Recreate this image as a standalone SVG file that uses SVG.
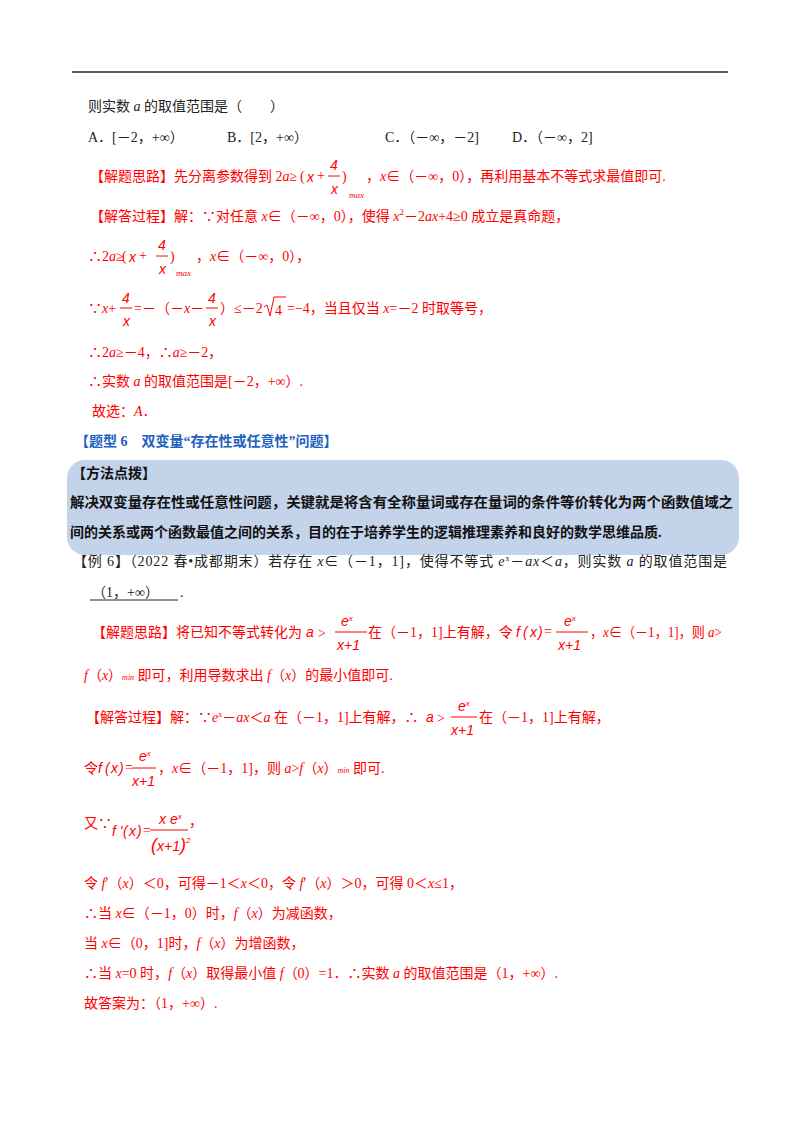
<svg xmlns="http://www.w3.org/2000/svg" width="800" height="1132" viewBox="0 0 800 1132">
<style>
text{font-family:"Liberation Serif","Noto Sans CJK SC",serif;font-size:14px;fill:#222}
.r{fill:#f00}
.b{fill:#2060c0;font-weight:bold}
.k{font-weight:bold;fill:#111}
.i{font-style:italic}
.s{font-size:9px;font-style:italic}
.m{font-family:"Liberation Sans","Noto Sans CJK SC",sans-serif;font-style:italic}
line.f{stroke:#f00;stroke-width:1}
</style>
<rect width="800" height="1132" fill="#fff"/>
<line x1="72" y1="72" x2="728" y2="72" stroke="#222" stroke-width="1.5"/>
<text x="88" y="111">则实数 <tspan class="i">a</tspan> 的取值范围是（　　）</text>
<text x="88" y="142">A．[－2，+∞）</text>
<text x="227" y="142">B．[2，+∞）</text>
<text x="385" y="142">C．（－∞，－2]</text>
<text x="512" y="142">D．（－∞，2]</text>
<g id="sol1">
<text class="r" x="90" y="181">【解题思路】先分离参数得到 2<tspan class="i">a</tspan>≥</text>
<text class="r" x="300" y="181" font-size="20">(</text>
<text class="r m" x="307" y="182">x</text><text class="r" x="317" y="180">+</text>
<text class="r m" x="330" y="170">4</text><line class="f" x1="328" y1="176" x2="340" y2="176"/><text class="r m" x="331" y="194">x</text>
<text class="r" x="342" y="181" font-size="20">)</text>
<text class="r s" x="349" y="198">max</text>
<text class="r" x="366" y="181">，<tspan class="i">x</tspan>∈（－∞，0），再利用基本不等式求最值即可.</text>
<text class="r" x="90" y="221">【解答过程】解：∵对任意 <tspan class="i">x</tspan>∈（－∞，0），使得 <tspan class="i">x</tspan><tspan font-size="9" dy="-6">2</tspan><tspan dy="6">－2<tspan class="i">ax</tspan>+4≥0 成立是真命题，</tspan></text>
<text class="r" x="88" y="261">∴2<tspan class="i">a</tspan>≥</text>
<text class="r" x="122" y="261" font-size="20">(</text>
<text class="r m" x="129" y="262">x</text><text class="r" x="139" y="260">+</text>
<text class="r m" x="158" y="250">4</text><line class="f" x1="156" y1="256" x2="168" y2="256"/><text class="r m" x="159" y="274">x</text>
<text class="r" x="170" y="261" font-size="20">)</text>
<text class="r s" x="176" y="276">max</text>
<text class="r" x="196" y="261">，<tspan class="i">x</tspan>∈（－∞，0），</text>
<text class="r" x="88" y="313">∵<tspan class="i">x</tspan>+</text>
<text class="r m" x="122" y="303">4</text><line class="f" x1="120" y1="308" x2="132" y2="308"/><text class="r m" x="123" y="326">x</text>
<text class="r" x="134" y="313">=－（－<tspan class="i">x</tspan>－</text>
<text class="r m" x="208" y="303">4</text><line class="f" x1="206" y1="308" x2="218" y2="308"/><text class="r m" x="209" y="326">x</text>
<text class="r" x="220" y="313">）≤－2</text>
<path d="M264 307 L267 305 L270 316 L274 297 L286 297" fill="none" stroke="#f00"/>
<text class="r" x="275" y="315">4</text>
<text class="r" x="287" y="313">=−4，当且仅当 <tspan class="i">x</tspan>=－2 时取等号，</text>
<text class="r" x="88" y="357">∴2<tspan class="i">a</tspan>≥－4，∴<tspan class="i">a</tspan>≥－2，</text>
<text class="r" x="88" y="386">∴实数 <tspan class="i">a</tspan> 的取值范围是[－2，+∞）.</text>
<text class="r" x="92" y="416">故选：<tspan class="i">A</tspan>．</text>
</g>
<text class="b" x="75" y="446">【题型 6　双变量“存在性或任意性”问题】</text>
<g id="box">
<rect x="67" y="460" width="672" height="95" rx="18" fill="#c3d3ea"/>
<text class="k" x="72" y="478">【方法点拨】</text>
<text class="k" x="70" y="507" textLength="663" lengthAdjust="spacingAndGlyphs">解决双变量存在性或任意性问题，关键就是将含有全称量词或存在量词的条件等价转化为两个函数值域之</text>
<text class="k" x="70" y="537">间的关系或两个函数最值之间的关系，目的在于培养学生的逻辑推理素养和良好的数学思维品质.</text>
</g>
<text x="73" y="566" textLength="654" lengthAdjust="spacing">【例 6】（2022 春•成都期末）若存在 <tspan class="i">x</tspan>∈（－1，1]，使得不等式 <tspan class="i">e</tspan><tspan font-size="8" dy="-5">x</tspan><tspan dy="5">－<tspan class="i">ax</tspan>＜<tspan class="i">a</tspan>，则实数 <tspan class="i">a</tspan> 的取值范围是</tspan></text>
<text x="92" y="597">（1，+∞）</text>
<line x1="90" y1="600" x2="178" y2="600" stroke="#222"/>
<text x="180" y="597">.</text>
<g id="sol2">
<text class="r" x="92" y="637">【解题思路】将已知不等式转化为</text>
<text class="r m" x="306" y="637" font-size="16">a</text><text class="r" x="318" y="638" font-size="18">&gt;</text>
<text class="r m" x="341" y="626">e<tspan font-size="8" dy="-5">x</tspan></text><line class="f" x1="335" y1="632" x2="367" y2="632"/><text class="r m" x="337" y="650">x+1</text>
<text class="r" x="368" y="637">在（－1，1]上有解，令</text>
<text class="r m" x="516" y="637">f</text><text class="r m" x="523" y="637" font-size="18">(</text><text class="r m" x="530" y="637">x</text><text class="r m" x="538" y="637" font-size="18">)</text><text class="r" x="544" y="636">=</text>
<text class="r m" x="564" y="626">e<tspan font-size="8" dy="-5">x</tspan></text><line class="f" x1="556" y1="632" x2="588" y2="632"/><text class="r m" x="558" y="650">x+1</text>
<text class="r" x="590" y="637" textLength="132" lengthAdjust="spacingAndGlyphs">，<tspan class="i">x</tspan>∈（－1，1]，则 <tspan class="i">a</tspan>&gt;</text>
<text class="r" x="84" y="680"><tspan class="i">f</tspan>（<tspan class="i">x</tspan>）<tspan font-size="8" class="i">min</tspan> 即可，利用导数求出 <tspan class="i">f</tspan>（<tspan class="i">x</tspan>）的最小值即可.</text>
<text class="r" x="86" y="722">【解答过程】解：∵<tspan class="i">e</tspan><tspan font-size="8" dy="-5">x</tspan><tspan dy="5">－<tspan class="i">ax</tspan>＜<tspan class="i">a</tspan> 在（－1，1]上有解，∴</tspan></text>
<text class="r m" x="426" y="722" font-size="16">a</text><text class="r" x="437" y="723" font-size="18">&gt;</text>
<text class="r m" x="458" y="711">e<tspan font-size="8" dy="-5">x</tspan></text><line class="f" x1="451" y1="717" x2="477" y2="717"/><text class="r m" x="451" y="735">x+1</text>
<text class="r" x="479" y="722">在（－1，1]上有解，</text>
<text class="r" x="84" y="773">令</text>
<text class="r m" x="98" y="773">f</text><text class="r m" x="105" y="773" font-size="18">(</text><text class="r m" x="111" y="773">x</text><text class="r m" x="119" y="773" font-size="18">)</text><text class="r" x="125" y="772">=</text>
<text class="r m" x="139" y="761">e<tspan font-size="8" dy="-5">x</tspan></text><line class="f" x1="132" y1="768" x2="156" y2="768"/><text class="r m" x="132" y="786">x+1</text>
<text class="r" x="158" y="773">，<tspan class="i">x</tspan>∈（－1，1]，则 <tspan class="i">a</tspan>&gt;<tspan class="i">f</tspan>（<tspan class="i">x</tspan>）<tspan font-size="8" class="i">min</tspan> 即可.</text>
<text class="r" x="84" y="828">又∵</text>
<text class="r m" x="112" y="836">f '</text><text class="r m" x="123" y="836" font-size="18">(</text><text class="r m" x="129" y="836">x</text><text class="r m" x="137" y="836" font-size="18">)</text><text class="r" x="143" y="835">=</text>
<text class="r m" x="159" y="824">x e<tspan font-size="8" dy="-5">x</tspan></text><line class="f" x1="150" y1="830" x2="188" y2="830"/>
<text class="r m" x="151" y="851"><tspan font-size="18">(</tspan>x+1<tspan font-size="18">)</tspan><tspan font-size="8" dy="-8">2</tspan></text>
<text class="r" x="189" y="826">，</text>
<text class="r" x="84" y="888">令 <tspan class="i">f</tspan>′（<tspan class="i">x</tspan>）＜0，可得－1＜<tspan class="i">x</tspan>＜0，令 <tspan class="i">f</tspan>′（<tspan class="i">x</tspan>）＞0，可得 0＜<tspan class="i">x</tspan>≤1，</text>
<text class="r" x="84" y="918">∴当 <tspan class="i">x</tspan>∈（－1，0）时，<tspan class="i">f</tspan>（<tspan class="i">x</tspan>）为减函数，</text>
<text class="r" x="84" y="948">当 <tspan class="i">x</tspan>∈（0，1]时，<tspan class="i">f</tspan>（<tspan class="i">x</tspan>）为增函数，</text>
<text class="r" x="84" y="978">∴当 <tspan class="i">x</tspan>=0 时，<tspan class="i">f</tspan>（<tspan class="i">x</tspan>）取得最小值 <tspan class="i">f</tspan>（0）=1．∴实数 <tspan class="i">a</tspan> 的取值范围是（1，+∞）.</text>
<text class="r" x="84" y="1008">故答案为：（1，+∞）.</text>
</g>
</svg>
